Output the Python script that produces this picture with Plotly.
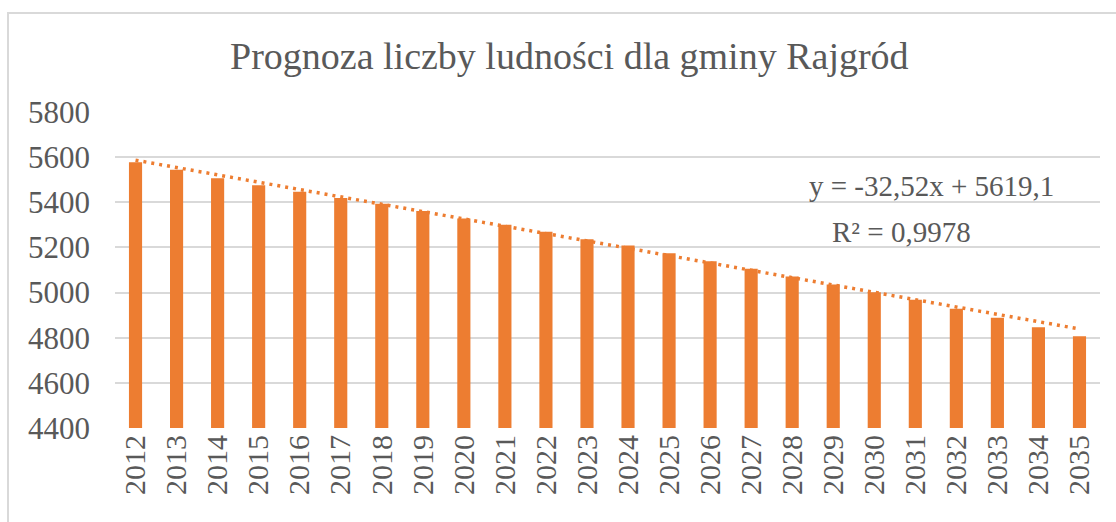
import plotly.graph_objects as go

years = [str(y) for y in range(2012, 2036)]
population = [5577, 5544, 5506, 5476, 5447, 5419, 5394, 5361, 5328, 5300, 5269, 5236,
              5209, 5174, 5139, 5105, 5071, 5036, 5001, 4968, 4928, 4888, 4846, 4806]
trend_slope = -32.52
trend_intercept = 5619.1
y_ticks = [4400, 4600, 4800, 5000, 5200, 5400, 5600, 5800]

title_text = "Prognoza liczby ludności dla gminy Rajgród"
eq_text = "y = -32,52x + 5619,1"
r2_text = "R² = 0,9978"

trend_values = [trend_slope * (i + 1) + trend_intercept for i in range(len(years))]

ORANGE = "#ED7D31"
GRAY = "#595959"
GRID = "#d9d9d9"
FONT = "Liberation Serif"

W, H = 1116, 522
L, R, T, B = 115, 16, 112, 94
pw, ph = W - L - R, H - T - B


def px_x(x):
    return (x - L) / pw


def px_y(y):
    return (H - B - y) / ph


fig = go.Figure()
fig.add_trace(go.Bar(x=years, y=population, marker=dict(color=ORANGE, line=dict(width=0)),
                     hoverinfo="x+y"))
fig.add_trace(go.Scatter(x=years, y=trend_values, mode="lines",
                         line=dict(color=ORANGE, width=3.5, dash="3px,5px"),
                         hoverinfo="skip"))

fig.update_layout(
    template="none",
    width=W, height=H,
    margin=dict(l=L, r=R, t=T, b=B),
    paper_bgcolor="white", plot_bgcolor="white",
    showlegend=False,
    bargap=0.68,
    font=dict(family=FONT, color=GRAY, size=30),
    xaxis=dict(type="category", tickangle=-90, tickfont=dict(size=30, color=GRAY, family=FONT),
               showgrid=False, showline=False, ticks="", ticklen=0, zeroline=False),
    yaxis=dict(range=[4400, 5800], tickvals=y_ticks, ticktext=[str(v) for v in y_ticks],
               tickfont=dict(size=31, color=GRAY, family=FONT),
               showgrid=True, gridcolor=GRID, gridwidth=1.5, zeroline=False,
               showline=False, ticks="", ticklabelstandoff=24),
    annotations=[
        dict(text=title_text, x=px_x(569), xref="paper", xanchor="center",
             y=px_y(56), yref="paper", yanchor="middle", showarrow=False,
             font=dict(size=38, color=GRAY, family=FONT)),
        dict(text=eq_text, x=px_x(931), xref="paper", xanchor="center",
             y=px_y(186), yref="paper", yanchor="middle", showarrow=False,
             font=dict(size=29, color=GRAY, family=FONT)),
        dict(text=r2_text, x=px_x(901), xref="paper", xanchor="center",
             y=px_y(232), yref="paper", yanchor="middle", showarrow=False,
             font=dict(size=29, color=GRAY, family=FONT)),
    ],
    shapes=[
        dict(type="rect", xref="paper", yref="paper",
             x0=px_x(8), x1=px_x(1122), y0=px_y(535), y1=px_y(13),
             line=dict(color=GRID, width=2), fillcolor="rgba(0,0,0,0)", layer="below"),
    ],
)

fig.write_html("out.html", config={"displayModeBar": False},
               post_script="document.body.style.margin='0';document.body.style.padding='0';")
